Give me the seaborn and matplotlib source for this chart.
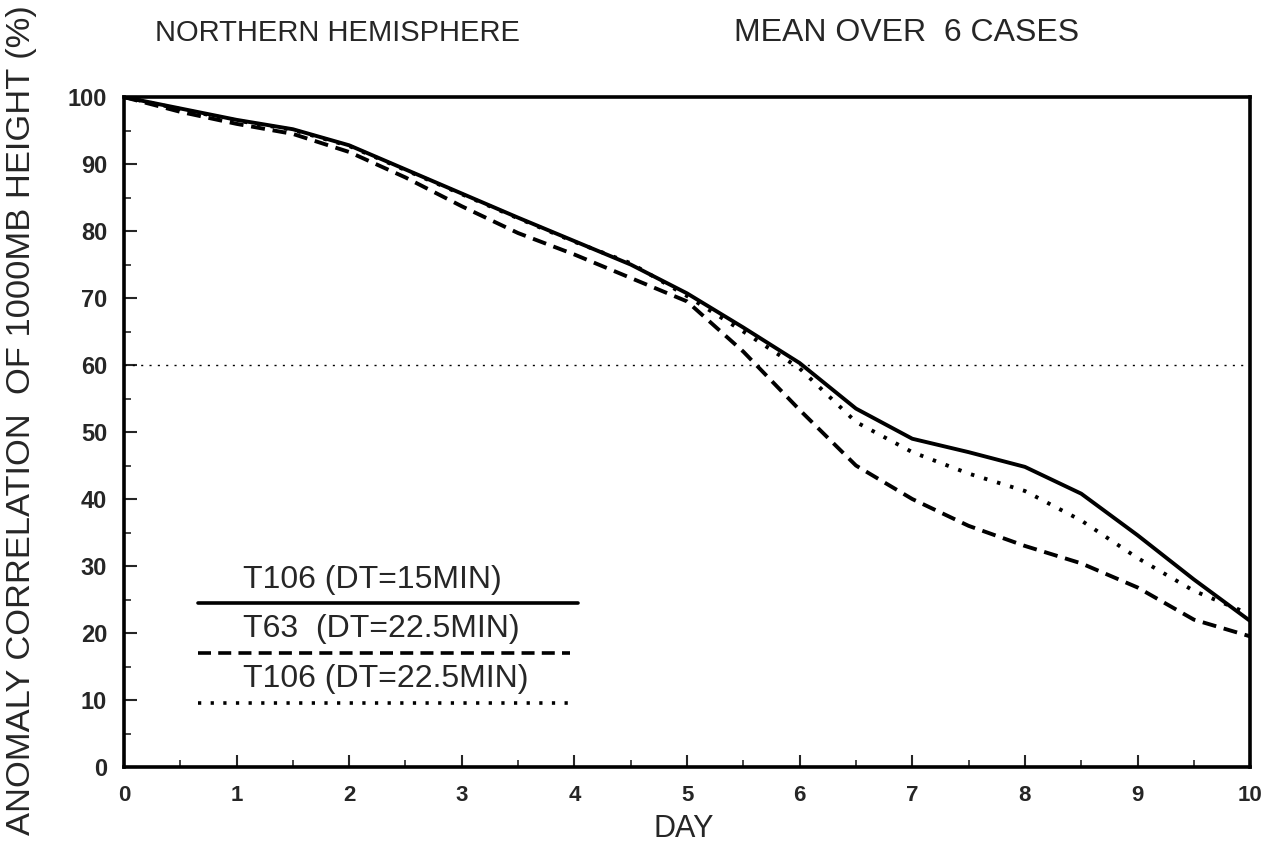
import numpy as np
import pandas as pd
import matplotlib
matplotlib.use("Agg")
import matplotlib.pyplot as plt
import seaborn as sns
from matplotlib.lines import Line2D

days = [0, 0.5, 1, 1.5, 2, 2.5, 3, 3.5, 4, 4.5, 5, 5.5, 6, 6.5, 7, 7.5, 8, 8.5, 9, 9.5, 10]
t106_15 = [100, 98.3, 96.6, 95.2, 92.8, 89.2, 85.6, 82.0, 78.5, 75.0, 70.7, 65.6, 60.3, 53.5, 49.0, 47.0, 44.8, 40.8, 34.6, 28.0, 21.8]
t63_225 = [100, 97.8, 96.0, 94.5, 91.8, 88.0, 83.7, 79.7, 76.5, 73.0, 69.5, 62.0, 53.3, 45.0, 40.0, 36.0, 33.0, 30.4, 26.8, 22.0, 19.5]
t106_225 = [100, 98.2, 96.5, 95.1, 92.7, 89.1, 85.5, 81.9, 78.4, 75.2, 70.3, 65.0, 59.5, 51.5, 47.0, 43.8, 41.2, 36.8, 31.2, 26.3, 22.8]
labels = ["T106 (DT=15MIN)", "T63  (DT=22.5MIN)", "T106 (DT=22.5MIN)"]
ref_level = 60
y_ticks = list(range(0, 101, 10))
x_ticks = list(range(0, 11))

df = pd.DataFrame({
    "day": days * 3,
    "ac": t106_15 + t63_225 + t106_225,
    "run": [labels[0]] * len(days) + [labels[1]] * len(days) + [labels[2]] * len(days),
})

sns.set_theme(style="ticks")
plt.rcParams['font.family'] = ['Liberation Sans', 'DejaVu Sans']

fig = plt.figure(figsize=(12.77, 8.44), dpi=100)
ax = fig.add_axes([0.097, 0.0912, 0.882, 0.7938])

dashes = {labels[0]: "", labels[1]: (3.6, 2.0), labels[2]: (0.9, 2.6)}
sns.lineplot(data=df, x="day", y="ac", style="run", dashes=dashes, color="black",
             linewidth=2.8, legend=False, ax=ax)

ax.axhline(ref_level, color="black", linewidth=1.0, linestyle=(0, (1.5, 4.5)))

ax.set_xlim(0, 10)
ax.set_ylim(0, 100)
ax.set_xticks(x_ticks)
ax.set_yticks(y_ticks)
ax.set_xticks(np.arange(0.5, 10, 1), minor=True)
ax.set_yticks(np.arange(5, 100, 10), minor=True)
ax.tick_params(axis="both", which="major", direction="in", length=9, width=1.5,
               top=False, right=False)
ax.tick_params(axis="x", which="major", labelsize=16, pad=13)
ax.tick_params(axis="y", which="major", labelsize=17, pad=12)
ax.tick_params(axis="both", which="minor", direction="in", length=5, width=1.2,
               top=False, right=False)
for lab in ax.get_xticklabels() + ax.get_yticklabels():
    lab.set_fontweight("bold")
for sp in ax.spines.values():
    sp.set_visible(True)
    sp.set_linewidth(2.6)
    sp.set_color("black")

ax.set_xlabel("DAY", fontsize=22)
ax.set_ylabel("ANOMALY CORRELATION  OF 1000MB HEIGHT (%)", fontsize=24.8)
ax.yaxis.set_label_coords(-0.077, 0.518)
ax.xaxis.set_label_coords(0.497, -0.07)

fig.text(0.121, 0.961, "NORTHERN HEMISPHERE", fontsize=21, va="center", ha="left")
fig.text(0.575, 0.961, "MEAN OVER  6 CASES", fontsize=23, va="center", ha="left")

# legend drawn inside axes (text above line samples)
styles = ["-", (0, (3.6, 2.0)), (0, (0.9, 2.6))]
line_y = [0.245, 0.170, 0.0955]
line_x1 = [0.403, 0.396, 0.398]
text_y = [0.279, 0.206, 0.131]
for lab, ls, ly, lx1, ty in zip(labels, styles, line_y, line_x1, text_y):
    ax.add_line(Line2D([0.066, lx1], [ly, ly], transform=ax.transAxes,
                       color="black", linestyle=ls, linewidth=2.6))
    ax.text(0.1057, ty, lab, transform=ax.transAxes, fontsize=23, va="center", ha="left")

fig.savefig("out.png", dpi=100, facecolor="white")
